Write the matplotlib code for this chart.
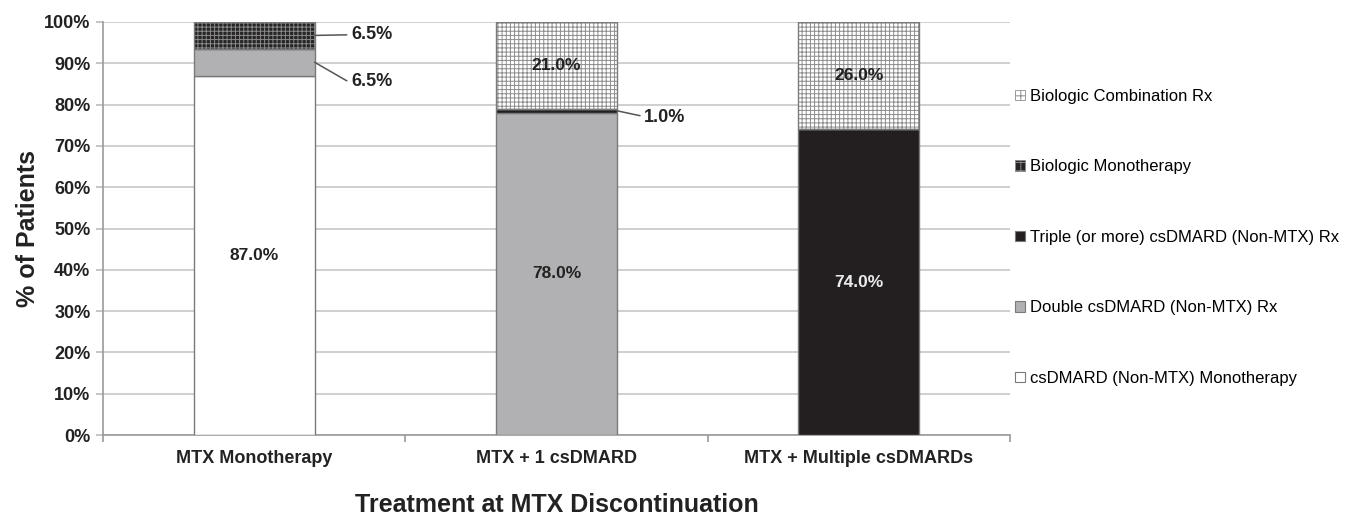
import matplotlib
matplotlib.use("Agg")
import matplotlib.pyplot as plt
from matplotlib.patches import Patch
import numpy as np

plt.rcParams['font.family'] = ['Liberation Sans', 'DejaVu Sans']
plt.rcParams['hatch.linewidth'] = 0.7

categories = ["MTX Monotherapy", "MTX + 1 csDMARD", "MTX + Multiple csDMARDs"]
series_names = [
    "csDMARD (Non-MTX) Monotherapy",
    "Double csDMARD (Non-MTX) Rx",
    "Triple (or more) csDMARD (Non-MTX) Rx",
    "Biologic Monotherapy",
    "Biologic Combination Rx",
]
csdmard_mono = [87.0, 0.0, 0.0]
double_csdmard = [6.5, 78.0, 0.0]
triple_csdmard = [0.0, 1.0, 74.0]
biologic_mono = [6.5, 0.0, 0.0]
biologic_combo = [0.0, 21.0, 26.0]
series_values = [csdmard_mono, double_csdmard, triple_csdmard, biologic_mono, biologic_combo]
yticks = [0, 10, 20, 30, 40, 50, 60, 70, 80, 90, 100]

# style per series: face, hatch, hatch colour
styles = [
    dict(face="white", hatch=None, hcol=None),
    dict(face="#b1b1b3", hatch=None, hcol=None),
    dict(face="#231f20", hatch=None, hcol=None),
    dict(face="#262425", hatch="++++", hcol="#8a8a8a"),
    dict(face="white", hatch="++++", hcol="#8c8c8c"),
]
outline = "#7a7a7a"
text_col = "#222222"

fig = plt.figure(figsize=(13.47, 5.16), dpi=100)
ax = fig.add_axes([103 / 1347, 1 - 435 / 516, 907 / 1347, 413 / 516])

x = np.arange(len(categories))
width = 0.40
bottom = np.zeros(len(categories))
for vals, st in zip(series_values, styles):
    vals = np.array(vals)
    if st["hatch"]:
        ax.bar(x, vals, width, bottom=bottom, color=st["face"], edgecolor=st["hcol"],
               hatch=st["hatch"], linewidth=0, zorder=3)
        ax.bar(x, vals, width, bottom=bottom, fill=False, edgecolor=outline,
               linewidth=1.0, zorder=4)
    else:
        ax.bar(x, vals, width, bottom=bottom, color=st["face"], edgecolor=outline,
               linewidth=1.0, zorder=3)
    bottom = bottom + vals


def seg_mid(si, ci):
    return sum(series_values[k][ci] for k in range(si)) + series_values[si][ci] / 2


# labels inside the larger segments
inside = [(0, 0, text_col), (1, 1, text_col), (4, 1, text_col),
          (2, 2, "#ececec"), (4, 2, text_col)]
for si, ci, col in inside:
    v = series_values[si][ci]
    ax.text(x[ci], seg_mid(si, ci), f"{v:.1f}%", ha="center", va="center",
            fontsize=12.5, fontweight="bold", color=col, zorder=6)

# callout labels for the thin segments
callouts = [(3, 0, 0.32, 97.0, None), (1, 0, 0.32, 85.5, 150), (2, 1, 0.29, 76.9, 168)]
for si, ci, dx, ty, angb in callouts:
    v = series_values[si][ci]
    if angb is None:
        cs = "arc3,rad=0"
    else:
        cs = f"angle,angleA=0,angleB={angb},rad=3"
    ax.annotate(f"{v:.1f}%", xy=(x[ci] + width / 2, seg_mid(si, ci)),
                xytext=(x[ci] + dx, ty), ha="left", va="center",
                fontsize=13, fontweight="bold", color=text_col,
                arrowprops=dict(arrowstyle="-", color="#555555", lw=1.1,
                                shrinkA=1, shrinkB=0, connectionstyle=cs),
                zorder=6)

ax.set_ylim(0, 100)
ax.set_xlim(-0.5, 2.5)
ax.set_yticks(yticks)
ax.set_yticklabels([f"{t}%" for t in yticks], fontsize=13, fontweight="bold", color=text_col)
ax.set_xticks(x)
ax.set_xticklabels(categories, fontsize=13, fontweight="bold", color=text_col)
ax.tick_params(axis="x", which="major", length=0, pad=11)
ax.set_xticks([-0.5, 0.5, 1.5, 2.5], minor=True)
ax.tick_params(axis="x", which="minor", length=5, color="#9a9a9a", width=1.2)
ax.tick_params(axis="y", length=5, color="#bbbbbb", width=1.2, pad=4)
ax.grid(axis="y", color="#cccccc", linewidth=1.3, zorder=0)
ax.set_axisbelow(True)
for s in ["top", "right"]:
    ax.spines[s].set_visible(False)
for s in ["left", "bottom"]:
    ax.spines[s].set_color("#9a9a9a")
    ax.spines[s].set_linewidth(1.2)

ax.set_ylabel("% of Patients", fontsize=18, fontweight="bold", color=text_col, labelpad=3)
ax.set_xlabel("Treatment at MTX Discontinuation", fontsize=18, fontweight="bold", color=text_col)
ax.xaxis.set_label_coords(0.5, -0.14)
ax.xaxis.label.set_va("top")

handles = []
for name, st in zip(series_names, styles):
    if st["hatch"]:
        handles.append(Patch(facecolor=st["face"], edgecolor=st["hcol"], hatch="++",
                             linewidth=0.6, label=name))
    else:
        handles.append(Patch(facecolor=st["face"], edgecolor=outline, linewidth=0.8, label=name))
handles = handles[::-1]
fig.legend(handles=handles, labels=[h.get_label() for h in handles],
           loc="center left", bbox_to_anchor=(1008 / 1347, 1 - 237.5 / 516),
           frameon=False, fontsize=12, handlelength=0.6, handleheight=0.6,
           handletextpad=0.35, labelspacing=3.33, borderaxespad=0)

fig.savefig("out.png", dpi=100)
